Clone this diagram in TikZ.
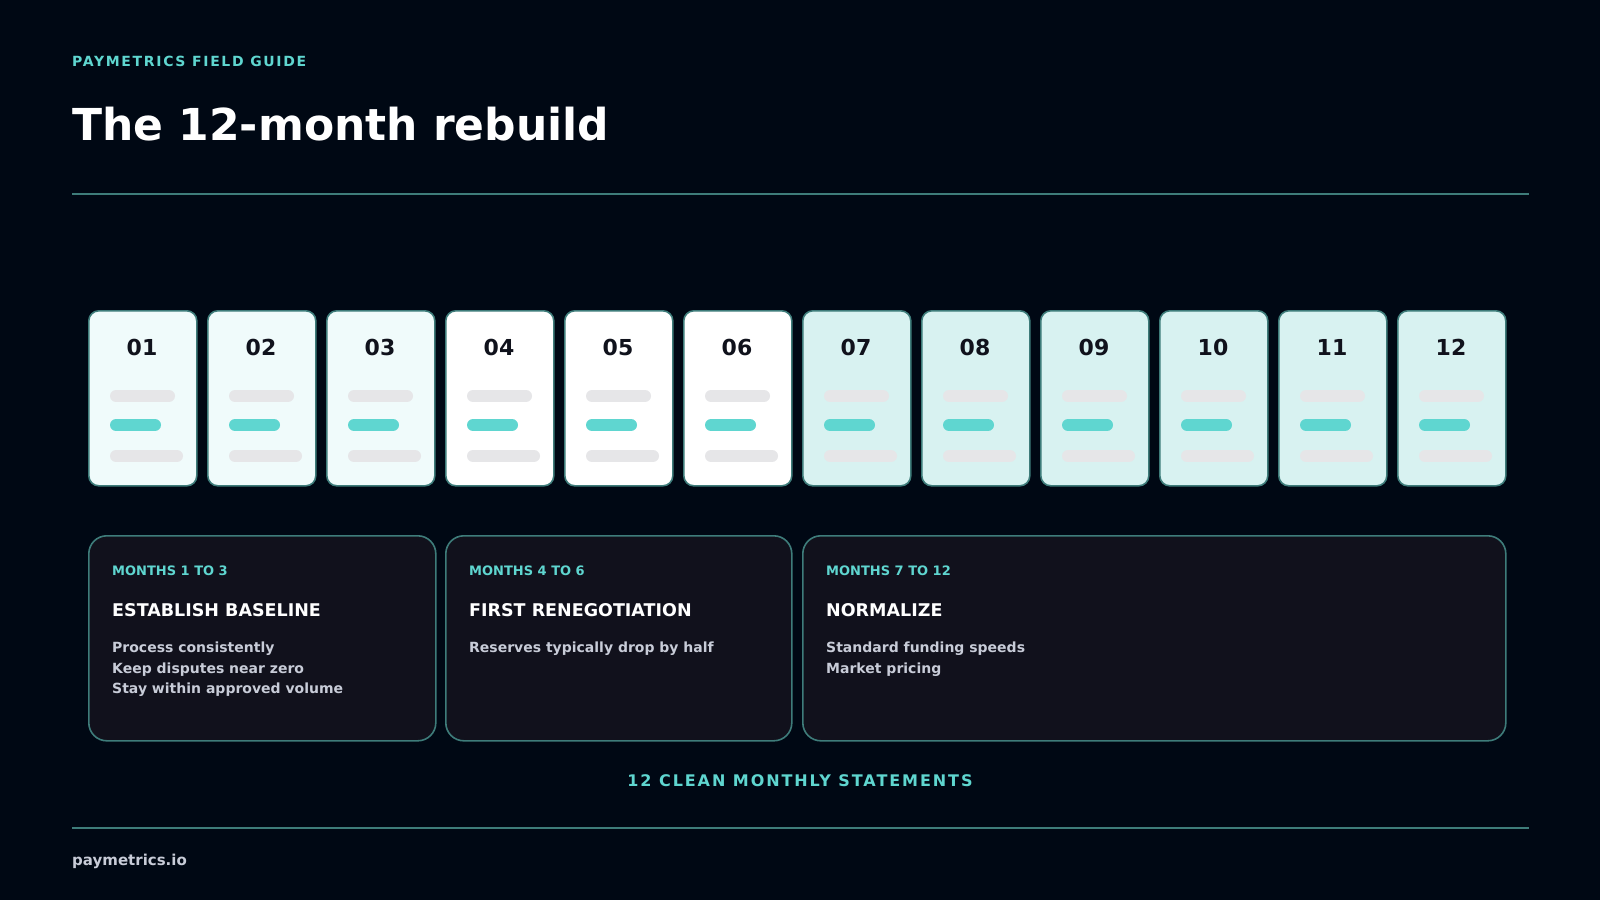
\documentclass[tikz,border=0pt]{standalone}
\usepackage{fontspec}
\setmainfont{DejaVu Sans}
\newfontfamily\spaced[LetterSpace=12]{DejaVu Sans}
\usetikzlibrary{positioning}

\definecolor{bgdark}{HTML}{000814}
\definecolor{teal}{HTML}{5FD6D0}
\definecolor{rulec}{HTML}{3E7C7A}
\definecolor{palec}{HTML}{F0FBFB}
\definecolor{mintc}{HTML}{D8F2F1}
\definecolor{barc}{HTML}{E6E6E8}
\definecolor{panelc}{HTML}{11111C}
\definecolor{bodyc}{HTML}{C8CCD8}
\definecolor{inkc}{HTML}{10121C}

\tikzset{
  card/.style={draw=rulec, line width=1.6pt, rounded corners=10pt, minimum width=108pt, minimum height=175pt, anchor=north west, inner sep=0pt},
  panel/.style={draw=rulec, line width=1.6pt, rounded corners=18pt, fill=panelc, anchor=north west, inner sep=0pt, minimum height=205pt},
  bar/.style={line width=12pt, line cap=round},
  txt/.style={anchor=west, inner sep=0pt, font=\bfseries},
}

\begin{document}
\begin{tikzpicture}[x=1pt, y=-1pt]

    % Background
    \fill[bgdark] (0,0) rectangle (1600,900);
    \useasboundingbox (0,0) rectangle (1600,900);

    % HEADER
    \node[txt, text=teal, font=\bfseries\spaced\fontsize{14}{16}\selectfont] (kicker) at (72,61) {PAYMETRICS FIELD GUIDE};
    \node[txt, text=white, font=\bfseries\fontsize{44}{50}\selectfont] (title) at (72,124) {The 12-month rebuild};
    \draw[rulec, line width=1.5pt] (72,194) -- (1529,194);

    % MONTH CARDS
    \foreach \n/\c [count=\i from 0] in {01/palec,02/palec,03/palec,04/white,05/white,06/white,07/mintc,08/mintc,09/mintc,10/mintc,11/mintc,12/mintc}{
        \pgfmathsetmacro{\xx}{88+119*\i}
        \node[card, fill=\c] (m\n) at (\xx,310) {};
        \node[font=\bfseries\fontsize{22}{24}\selectfont, text=inkc] at (\xx+54,347) {\n};
        \draw[bar, barc] (\xx+28,396) -- (\xx+81,396);
        \draw[bar, teal] (\xx+28,425) -- (\xx+67,425);
        \draw[bar, barc] (\xx+28,456) -- (\xx+89,456);
    }

    % PHASE PANELS
    \node[panel, minimum width=347pt] (p1) at (88,535) {};
    \node[panel, minimum width=346pt] (p2) at (445,535) {};
    \node[panel, minimum width=703pt] (p3) at (802,535) {};

    \foreach \p/\lab/\head in {p1/MONTHS 1 TO 3/ESTABLISH BASELINE, p2/MONTHS 4 TO 6/FIRST RENEGOTIATION, p3/MONTHS 7 TO 12/NORMALIZE}{
        \node[txt, text=teal, font=\bfseries\fontsize{13}{15}\selectfont] at ([xshift=24pt, yshift=-36pt]\p.north west) {\lab};
        \node[txt, text=white, font=\bfseries\fontsize{17.5}{20}\selectfont] at ([xshift=24pt, yshift=-75pt]\p.north west) {\head};
    }

    \node[txt, text=bodyc, font=\bfseries\fontsize{14}{20.3}\selectfont, align=left, anchor=north west] at ([xshift=24pt, yshift=-107pt]p1.north west)
        {Process consistently\\Keep disputes near zero\\Stay within approved volume};
    \node[txt, text=bodyc, font=\bfseries\fontsize{14}{20.3}\selectfont, align=left, anchor=north west] at ([xshift=24pt, yshift=-107pt]p2.north west)
        {Reserves typically drop by half};
    \node[txt, text=bodyc, font=\bfseries\fontsize{14}{20.3}\selectfont, align=left, anchor=north west] at ([xshift=24pt, yshift=-107pt]p3.north west)
        {Standard funding speeds\\Market pricing};

    % FOOTER
    \node[text=teal, font=\bfseries\spaced\fontsize{16}{18}\selectfont, inner sep=0pt] (total) at (800,781) {12 CLEAN MONTHLY STATEMENTS};
    \draw[rulec, line width=1.5pt] (72,828) -- (1529,828);
    \node[txt, text=bodyc, font=\bfseries\fontsize{15}{17}\selectfont] (site) at (72,861) {paymetrics.io};

\end{tikzpicture}
\end{document}
